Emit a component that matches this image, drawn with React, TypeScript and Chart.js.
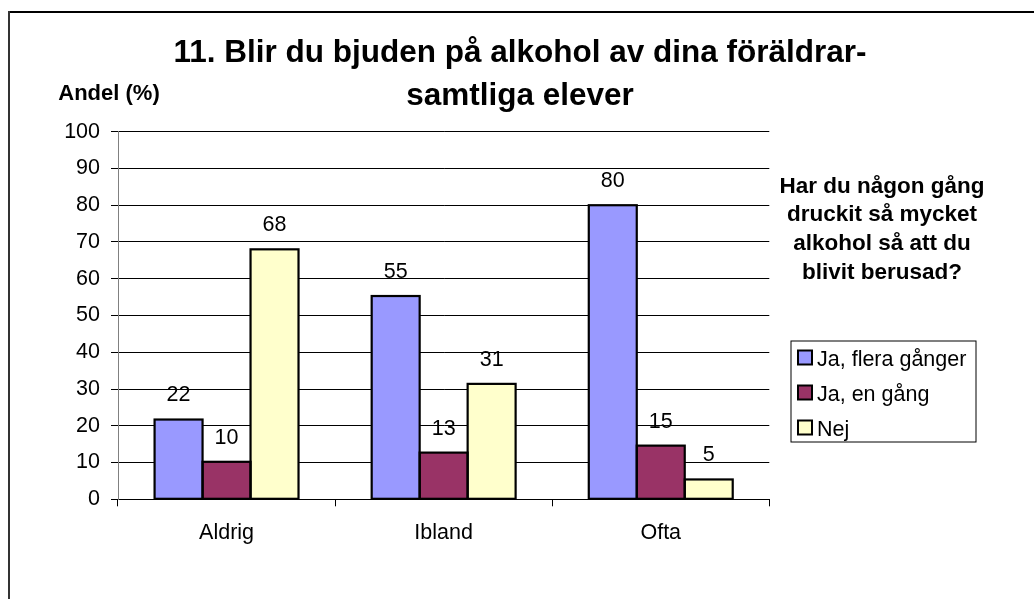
import React, { useEffect, useRef } from 'react';
import { Chart, registerables } from 'chart.js';

Chart.register(...registerables);

const categories = ['Aldrig', 'Ibland', 'Ofta'];
const seriesNames = ['Ja, flera gånger', 'Ja, en gång', 'Nej'];
const jaFleraGanger = [21.7, 55.3, 80.0];
const jaEnGang = [10.2, 12.7, 14.6];
const nej = [68.0, 31.4, 5.4];
const seriesColors = ['#9999FF', '#993366', '#FFFFCC'];
const yMin = 0;
const yMax = 100;
const yStep = 10;
const titleLines = ['11. Blir du bjuden på alkohol av dina föräldrar-', 'samtliga elever'];
const yAxisTitle = 'Andel (%)';
const noteLines = ['Har du någon gång', 'druckit så mycket', 'alkohol så att du', 'blivit berusad?'];

const FAMILY = 'Arial, "Liberation Sans", sans-serif';

const decorPlugin = {
  id: 'decor',
  beforeDraw(chart: any) {
    const ctx = chart.ctx;
    ctx.save();
    ctx.fillStyle = '#ffffff';
    ctx.fillRect(0, 0, chart.width, chart.height);
    ctx.restore();
  },
  afterDatasetsDraw(chart: any) {
    const ctx = chart.ctx;
    ctx.save();
    chart.data.datasets.forEach((ds: any, i: number) => {
      const meta = chart.getDatasetMeta(i);
      meta.data.forEach((bar: any, j: number) => {
        const p = bar.getProps(['x', 'y', 'base', 'width'], true);
        ctx.strokeStyle = '#000000';
        ctx.lineWidth = 2.2;
        ctx.strokeRect(p.x - p.width / 2, p.y, p.width, p.base - p.y);
        ctx.fillStyle = '#000000';
        ctx.font = `21.5px ${FAMILY}`;
        ctx.textAlign = 'center';
        ctx.textBaseline = 'middle';
        ctx.fillText(String(Math.round(ds.data[j])), p.x, p.y - 24);
      });
    });
    ctx.restore();
  },
  afterDraw(chart: any) {
    const ctx = chart.ctx;
    ctx.save();
    ctx.fillStyle = '#000000';
    // title
    ctx.font = `bold 31.5px ${FAMILY}`;
    ctx.textAlign = 'center';
    ctx.textBaseline = 'alphabetic';
    ctx.fillText(titleLines[0], 520, 62);
    ctx.fillText(titleLines[1], 520, 105);
    // y axis title
    ctx.font = `bold 22px ${FAMILY}`;
    ctx.fillText(yAxisTitle, 109, 100);
    // note
    ctx.font = `bold 22.5px ${FAMILY}`;
    noteLines.forEach((l, i) => ctx.fillText(l, 882, 192.5 + i * 28.7));
    // legend
    ctx.strokeStyle = '#000000';
    ctx.lineWidth = 1;
    ctx.strokeRect(791, 341, 185, 101);
    ctx.font = `21.5px ${FAMILY}`;
    ctx.textAlign = 'left';
    seriesNames.forEach((name, i) => {
      const cy = 357.5 + i * 35;
      ctx.fillStyle = seriesColors[i];
      ctx.fillRect(798, cy - 7, 14, 14);
      ctx.strokeStyle = '#000000';
      ctx.lineWidth = 2;
      ctx.strokeRect(798, cy - 7, 14, 14);
      ctx.fillStyle = '#000000';
      ctx.fillText(name, 817, cy + 8);
    });
    // outer frame
    ctx.fillStyle = '#000000';
    ctx.fillRect(8, 11, chart.width, 2);
    ctx.fillStyle = '#333333';
    ctx.fillRect(8, 11, 2, chart.height);
    ctx.restore();
  },
};

export default function App() {
  const ref = useRef<HTMLCanvasElement | null>(null);
  useEffect(() => {
    if (!ref.current) return;
    const datasets = [jaFleraGanger, jaEnGang, nej].map((d, i) => ({
      label: seriesNames[i],
      data: d,
      backgroundColor: seriesColors[i],
      borderWidth: 0,
      categoryPercentage: 0.663,
      barPercentage: 1,
    }));
    const chart = new Chart(ref.current, {
      type: 'bar',
      data: { labels: categories, datasets },
      plugins: [decorPlugin],
      options: {
        responsive: true,
        maintainAspectRatio: false,
        animation: false,
        devicePixelRatio: 1,
        layout: { padding: { left: 0, right: 264.7, top: 131.7, bottom: 0 } },
        plugins: {
          legend: { display: false },
          title: { display: false },
          tooltip: { enabled: false },
        },
        scales: {
          x: {
            offset: true,
            grid: {
              display: true,
              offset: true,
              drawOnChartArea: false,
              drawTicks: true,
              tickLength: 7,
              color: '#000000',
              lineWidth: 1,
            },
            border: { display: true, color: '#000000', width: 1 },
            ticks: {
              color: '#000000',
              font: { family: FAMILY, size: 21.5 },
              padding: 14,
            },
            afterFit: (s: any) => {
              s.height = 99.7;
            },
          },
          y: {
            min: yMin,
            max: yMax,
            grid: {
              color: '#000000',
              lineWidth: 1,
              drawTicks: true,
              tickLength: 7,
              tickColor: '#000000',
            },
            border: { display: true, color: '#808080', width: 1 },
            ticks: {
              stepSize: yStep,
              color: '#000000',
              font: { family: FAMILY, size: 21.5 },
              padding: 11,
            },
            afterFit: (s: any) => {
              s.width = 118;
            },
          },
        },
      },
    });
    return () => chart.destroy();
  }, []);
  return (
    <div style={{ position: 'fixed', left: 0, top: 0, width: 1034, height: 599, background: '#fff' }}>
      <canvas ref={ref} />
    </div>
  );
}
